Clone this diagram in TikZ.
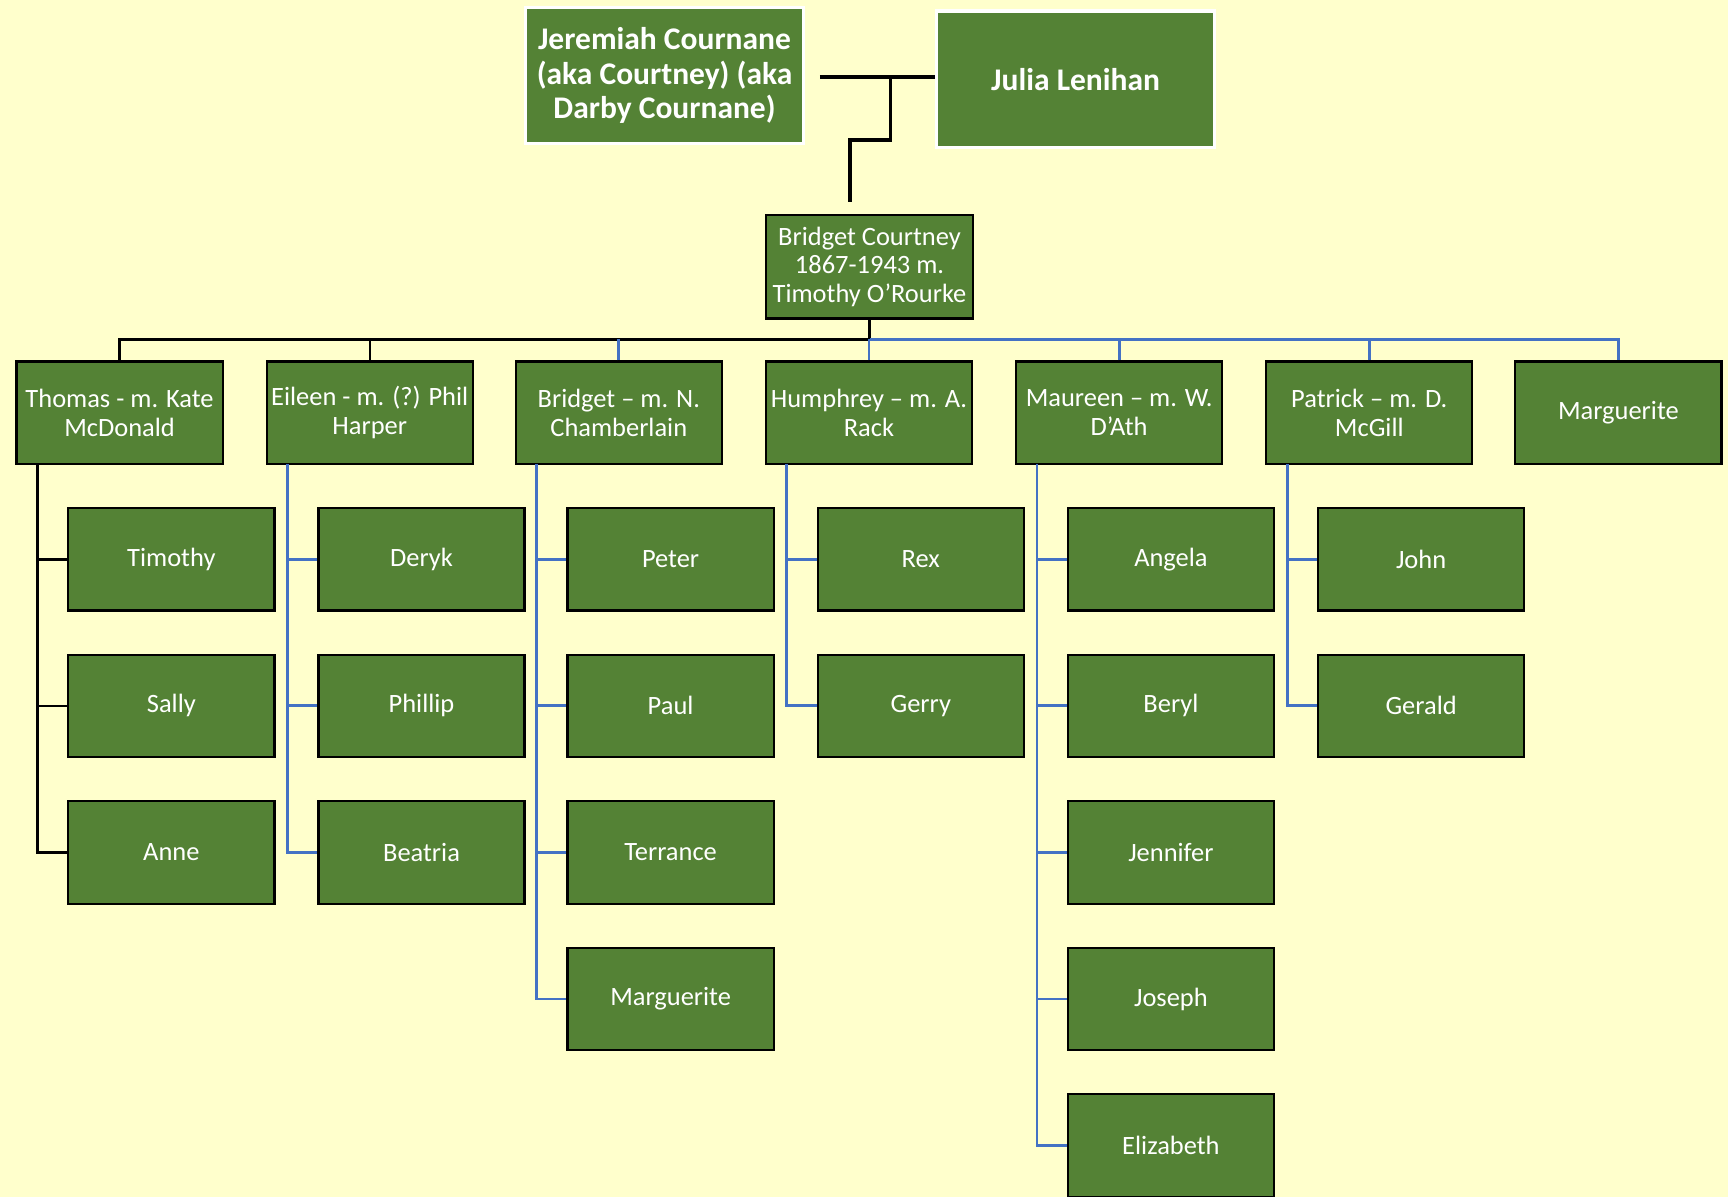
\documentclass[tikz,border=0pt]{standalone}
\usepackage{fontspec}
\setmainfont{Carlito}
\definecolor{pagebg}{HTML}{FFFFCC}
\definecolor{leaf}{HTML}{548235}
\definecolor{linkblue}{HTML}{4472C4}
\begin{document}
\begin{tikzpicture}[x=0.5pt,y=-0.5pt,
  person/.style={draw=black,line width=1pt,fill=leaf,text=white,
    minimum width=93.5pt,minimum height=46.5pt,inner sep=0pt,align=center,
    font=\fontsize{12pt}{13pt}\selectfont},
  ancestor/.style={draw=white,line width=1.5pt,fill=leaf,text=white,
    minimum width=126pt,minimum height=62pt,inner sep=0pt,align=center,
    font=\fontsize{14.3pt}{15.5pt}\selectfont\bfseries},
  blackline/.style={draw=black,line width=1.1pt},
  blueline/.style={draw=linkblue,line width=1.25pt},
  marriage/.style={draw=black,line width=1.7pt}]

% page and visible area
\clip (0,0) rectangle (1568,1086);
\fill[pagebg] (0,0) rectangle (1568,1086);

% grandparents
\node[ancestor] (jer) at (603,68.5) {Jeremiah Cournane\\(aka Courtney) (aka\\Darby Cournane)};
\node[ancestor] (jul) at (976,72) {Julia Lenihan};

% marriage line and descent
\coordinate (mA) at (744,70);
\coordinate (mB) at (848,70);
\coordinate (mC) at (808,70);
\coordinate (mD) at (808,127);
\coordinate (mE) at (771,127);
\coordinate (mF) at (771,183);
\draw[marriage] (mA) -- (mB);
\draw[marriage] (mC) -- (mD) -- (mE) -- (mF);

% Bridget Courtney
\node[person,minimum width=94pt,minimum height=47pt] (bc) at (789,242)
  {Bridget Courtney\\1867-1943 m.\\Timothy O’Rourke};

% children
\node[person] (c1) at (108.5,374.5) {Thomas - m. Kate\\McDonald};
\node[person] (c2) at (335.5,374.5) {Eileen - m. (?) Phil\\Harper};
\node[person] (c3) at (561.5,374.5) {Bridget – m. N.\\Chamberlain};
\node[person] (c4) at (788.5,374.5) {Humphrey – m. A.\\Rack};
\node[person] (c5) at (1015.5,374.5) {Maureen – m. W.\\D’Ath};
\node[person] (c6) at (1242.5,374.5) {Patrick – m. D.\\McGill};
\node[person] (c7) at (1468.5,374.5) {Marguerite};

% bus from Bridget Courtney to her children
\coordinate (bus) at (789,308);
\draw[blackline] (bc.south) -- (bus);
\draw[blackline] (c1.north) |- (bus);
\draw[blackline] (c2.north) |- (bus);
\draw[blueline] (bus) -| (c7.north);
\draw[blueline] (c3.north) -- (c3.north |- bus);
\draw[blueline] (c4.north) -- (c4.north |- bus);
\draw[blueline] (c5.north) -- (c5.north |- bus);
\draw[blueline] (c6.north) -- (c6.north |- bus);

% grandchildren
\node[person] (g11) at (155.5,507.5) {Timothy};
\node[person] (g12) at (155.5,640.5) {Sally};
\node[person] (g13) at (155.5,773.5) {Anne};

\node[person] (g21) at (382.5,507.5) {Deryk};
\node[person] (g22) at (382.5,640.5) {Phillip};
\node[person] (g23) at (382.5,773.5) {Beatria};

\node[person] (g31) at (608.5,507.5) {Peter};
\node[person] (g32) at (608.5,640.5) {Paul};
\node[person] (g33) at (608.5,773.5) {Terrance};
\node[person] (g34) at (608.5,906.5) {Marguerite};

\node[person] (g41) at (835.5,507.5) {Rex};
\node[person] (g42) at (835.5,640.5) {Gerry};

\node[person] (g51) at (1062.5,507.5) {Angela};
\node[person] (g52) at (1062.5,640.5) {Beryl};
\node[person] (g53) at (1062.5,773.5) {Jennifer};
\node[person] (g54) at (1062.5,906.5) {Joseph};
\node[person] (g55) at (1062.5,1039.5) {Elizabeth};

\node[person] (g61) at (1289.5,507.5) {John};
\node[person] (g62) at (1289.5,640.5) {Gerald};

% family trunks: one vertical per parent, stubs to each child
\coordinate (t1) at (34,421);
\draw[blackline] (t1) |- (g13.west);
\draw[blackline] (t1 |- g11.west) -- (g11.west);
\draw[blackline] (t1 |- g12.west) -- (g12.west);

\coordinate (t2) at (261,421);
\draw[blueline] (t2) |- (g23.west);
\draw[blueline] (t2 |- g21.west) -- (g21.west);
\draw[blueline] (t2 |- g22.west) -- (g22.west);

\coordinate (t3) at (487,421);
\draw[blueline] (t3) |- (g34.west);
\draw[blueline] (t3 |- g31.west) -- (g31.west);
\draw[blueline] (t3 |- g32.west) -- (g32.west);
\draw[blueline] (t3 |- g33.west) -- (g33.west);

\coordinate (t4) at (714,421);
\draw[blueline] (t4) |- (g42.west);
\draw[blueline] (t4 |- g41.west) -- (g41.west);

\coordinate (t5) at (941,421);
\draw[blueline] (t5) |- (g55.west);
\draw[blueline] (t5 |- g51.west) -- (g51.west);
\draw[blueline] (t5 |- g52.west) -- (g52.west);
\draw[blueline] (t5 |- g53.west) -- (g53.west);
\draw[blueline] (t5 |- g54.west) -- (g54.west);

\coordinate (t6) at (1168,421);
\draw[blueline] (t6) |- (g62.west);
\draw[blueline] (t6 |- g61.west) -- (g61.west);
\end{tikzpicture}
\end{document}
